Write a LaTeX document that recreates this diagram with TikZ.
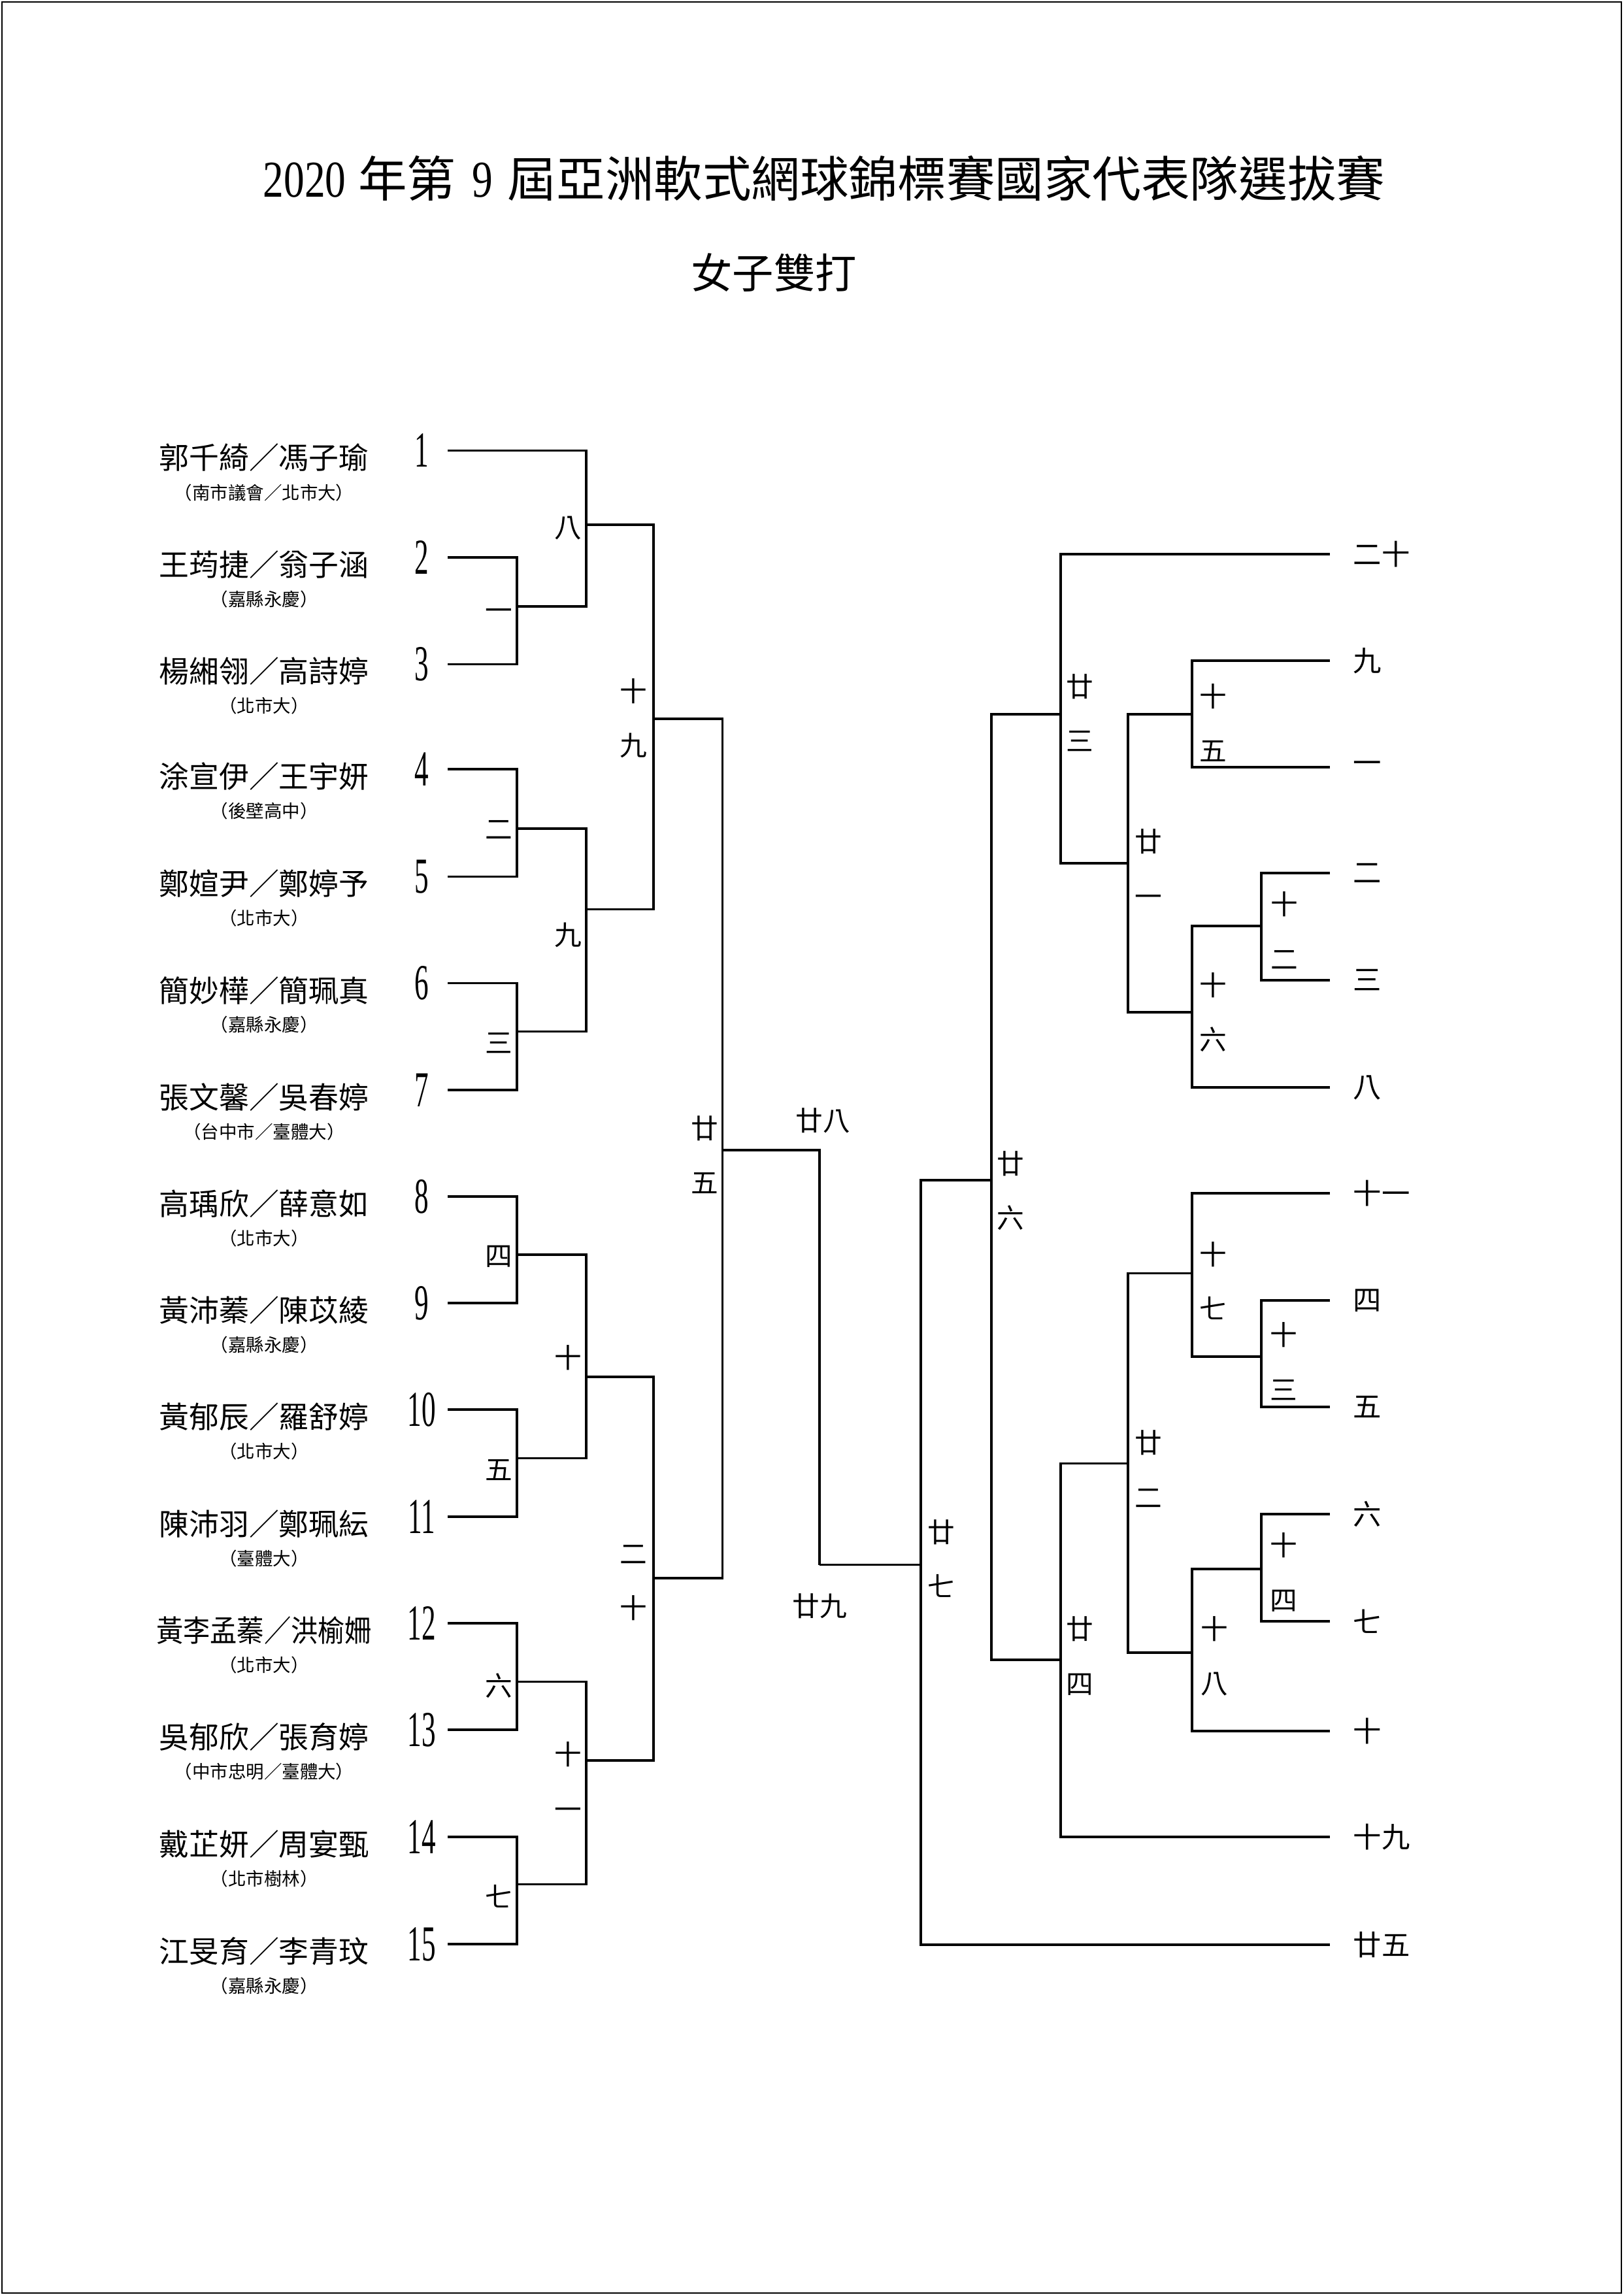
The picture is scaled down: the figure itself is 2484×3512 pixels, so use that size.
\documentclass[tikz,border=0pt]{standalone}
\usepackage{fontspec}
\usepackage{graphicx}
\setmainfont{Noto Sans CJK TC}
\newfontfamily\digf{Liberation Serif}
\newcommand\dnum[1]{\scalebox{0.56}[1]{\digf\fontsize{18.5}{20}\selectfont #1}}
\newcommand\tdig[1]{\scalebox{0.8}[1]{\digf\fontsize{19}{20}\selectfont #1}}
\tikzset{
  ln/.style={line width=0.8pt},
  nm/.style={inner sep=0pt, font=\fontsize{11}{13}\selectfont},
  cl/.style={inner sep=0pt, font=\fontsize{6.6}{8}\selectfont},
  num/.style={inner sep=0pt},
  lab/.style={inner sep=0pt, font=\fontsize{10}{12}\selectfont},
  stk/.style={inner sep=0pt, align=center, font=\fontsize{10}{20}\selectfont},
  rlab/.style={inner sep=0pt, anchor=west, font=\fontsize{10.4}{12}\selectfont},
}
\begin{document}
\begin{tikzpicture}[x=0.24pt,y=-0.24pt]
\useasboundingbox (0,0) rectangle (2484,3512);
\draw[line width=0.6pt] (3,3) rectangle (2481,3509);

% titles
\node[inner sep=0pt, font=\fontsize{17.9}{20}\selectfont] (title) at (1261,273)
  {\tdig{2020}\hspace{4.5pt}年第\hspace{6pt}\tdig{9}\hspace{5.5pt}屆亞洲軟式網球錦標賽國家代表隊選拔賽};
\node[inner sep=0pt, font=\fontsize{15.2}{18}\selectfont] (sub) at (1184,417) {女子雙打};

% left entries: line start points and numbers
\foreach \k/\y in {1/689.5, 2/853, 3/1016.5, 4/1177, 5/1341.5, 6/1504.6, 7/1668, 8/1831,
                   9/1994, 10/2157, 11/2321, 12/2484, 13/2647, 14/2811, 15/2975} {
  \coordinate (L\k) at (685,\y);
  \node[num] (n\k) at (645,\y) {\dnum{\k}};
}

% names and clubs
\node[nm] (p1) at (404,700.5) {郭千綺／馮子瑜};
\node[cl] (c1) at (404,754) {（南市議會／北市大）};
\node[nm] (p2) at (404,864) {王荺捷／翁子涵};
\node[cl] (c2) at (404,917) {（嘉縣永慶）};
\node[nm] (p3) at (404,1027.5) {楊緗翎／高詩婷};
\node[cl] (c3) at (404,1080) {（北市大）};
\node[nm] (p4) at (404,1188) {涂宣伊／王宇妍};
\node[cl] (c4) at (404,1241) {（後壁高中）};
\node[nm] (p5) at (404,1352.5) {鄭媗尹／鄭婷予};
\node[cl] (c5) at (404,1405) {（北市大）};
\node[nm] (p6) at (404,1515.6) {簡妙樺／簡珮真};
\node[cl] (c6) at (404,1568) {（嘉縣永慶）};
\node[nm] (p7) at (404,1679) {張文馨／吳春婷};
\node[cl] (c7) at (404,1732) {（台中市／臺體大）};
\node[nm] (p8) at (404,1842) {高瑀欣／薛意如};
\node[cl] (c8) at (404,1895) {（北市大）};
\node[nm] (p9) at (404,2005) {黃沛蓁／陳苡綾};
\node[cl] (c9) at (404,2058) {（嘉縣永慶）};
\node[nm] (p10) at (404,2168) {黃郁辰／羅舒婷};
\node[cl] (c10) at (404,2221) {（北市大）};
\node[nm] (p11) at (404,2332) {陳沛羽／鄭珮紜};
\node[cl] (c11) at (404,2385) {（臺體大）};
\node[nm] (p12) at (404,2495) {\scalebox{0.9}[1]{黃李孟蓁／洪榆姍}};
\node[cl] (c12) at (404,2548) {（北市大）};
\node[nm] (p13) at (404,2658) {吳郁欣／張育婷};
\node[cl] (c13) at (404,2711) {（中市忠明／臺體大）};
\node[nm] (p14) at (404,2822) {戴芷妍／周宴甄};
\node[cl] (c14) at (404,2875) {（北市樹林）};
\node[nm] (p15) at (404,2986) {江旻育／李青玟};
\node[cl] (c15) at (404,3039) {（嘉縣永慶）};

% match points, left half
\coordinate (m1) at (791,928);
\coordinate (m2) at (791,1268);
\coordinate (m3) at (791,1578.5);
\coordinate (m4) at (791,1920);
\coordinate (m5) at (791,2231.5);
\coordinate (m6) at (791,2573.6);
\coordinate (m7) at (791,2883.6);
\coordinate (m8) at (897,803);
\coordinate (m9) at (897,1391.5);
\coordinate (m10) at (897,2107);
\coordinate (m11) at (897,2694);
\coordinate (m19) at (1000,1100);
\coordinate (m20) at (1000,2415);
\coordinate (m25) at (1105.6,1760);
\coordinate (k29) at (1254,2394.5);
\coordinate (m27) at (1409,2394.5);
\coordinate (m26) at (1517,1806);
% match points, right half
\coordinate (m23) at (1623,1093);
\coordinate (m24) at (1623,2540);
\coordinate (m21) at (1726,1321);
\coordinate (m22) at (1726,2239.6);
\coordinate (m15) at (1824,1093);
\coordinate (m16) at (1824,1549);
\coordinate (m17) at (1824,1948.5);
\coordinate (m18) at (1824,2529);
\coordinate (m12) at (1930,1417);
\coordinate (m13) at (1930,2076);
\coordinate (m14) at (1930,2401);
% right line ends
\coordinate (r20) at (2035,848);
\coordinate (r9) at (2035,1011);
\coordinate (r1) at (2035,1174);
\coordinate (r2) at (2035,1336);
\coordinate (r3) at (2035,1500);
\coordinate (r8) at (2035,1664);
\coordinate (r11) at (2035,1826);
\coordinate (r4) at (2035,1990);
\coordinate (r5) at (2035,2153);
\coordinate (r6) at (2035,2317);
\coordinate (r7) at (2035,2481);
\coordinate (r10) at (2035,2649);
\coordinate (r19) at (2035,2811);
\coordinate (r25) at (2035,2976);

% left bracket lines
\draw[ln] (L1) -| (m8);
\draw[ln] (L2) -| (m1);  \draw[ln] (L3) -| (m1);
\draw[ln] (L4) -| (m2);  \draw[ln] (L5) -| (m2);
\draw[ln] (L6) -| (m3);  \draw[ln] (L7) -| (m3);
\draw[ln] (L8) -| (m4);  \draw[ln] (L9) -| (m4);
\draw[ln] (L10) -| (m5); \draw[ln] (L11) -| (m5);
\draw[ln] (L12) -| (m6); \draw[ln] (L13) -| (m6);
\draw[ln] (L14) -| (m7); \draw[ln] (L15) -| (m7);
\draw[ln] (m1) -| (m8);
\draw[ln] (m2) -| (m9);  \draw[ln] (m3) -| (m9);
\draw[ln] (m4) -| (m10); \draw[ln] (m5) -| (m10);
\draw[ln] (m6) -| (m11); \draw[ln] (m7) -| (m11);
\draw[ln] (m8) -| (m19); \draw[ln] (m9) -| (m19);
\draw[ln] (m10) -| (m20); \draw[ln] (m11) -| (m20);
\draw[ln] (m19) -| (m25); \draw[ln] (m20) -| (m25);
% centre
\draw[ln] (m25) -| (k29);
\draw[ln] (k29) -- (m27);
\draw[ln] (m26) -| (m27);
\draw[ln] (r25) -| (m27);
% right bracket lines
\draw[ln] (m23) -| (m26); \draw[ln] (m24) -| (m26);
\draw[ln] (r20) -| (m23); \draw[ln] (m21) -| (m23);
\draw[ln] (m15) -| (m21); \draw[ln] (m16) -| (m21);
\draw[ln] (r9) -| (m15);  \draw[ln] (r1) -| (m15);
\draw[ln] (m12) -| (m16); \draw[ln] (r8) -| (m16);
\draw[ln] (r2) -| (m12);  \draw[ln] (r3) -| (m12);
\draw[ln] (m22) -| (m24); \draw[ln] (r19) -| (m24);
\draw[ln] (m17) -| (m22); \draw[ln] (m18) -| (m22);
\draw[ln] (r11) -| (m17); \draw[ln] (m13) -| (m17);
\draw[ln] (r4) -| (m13);  \draw[ln] (r5) -| (m13);
\draw[ln] (m14) -| (m18); \draw[ln] (r10) -| (m18);
\draw[ln] (r6) -| (m14);  \draw[ln] (r7) -| (m14);

% match labels, left
\node[lab] (t1) at (763,941) {一};
\node[lab] (t2) at (763,1270) {二};
\node[lab] (t3) at (763,1596) {三};
\node[lab] (t4) at (763,1923) {四};
\node[lab] (t5) at (763,2250) {五};
\node[lab] (t6) at (763,2580) {六};
\node[lab] (t7) at (763,2902) {七};
\node[lab] (t8) at (869,808) {八};
\node[lab] (t9) at (869,1431) {九};
\node[lab] (t10) at (869,2078) {十};
\node[stk] (t11) at (869,2725) {十\\一};
\node[stk] (t19) at (969,1099) {十\\九};
\node[stk] (t20) at (969,2422) {二\\十};
\node[stk] (t25) at (1078,1767) {廿\\五};
\node[lab] (t28) at (1259,1715) {廿八};
\node[lab] (t29) at (1254,2458) {廿九};
% match labels, right
\node[stk] (t27) at (1440,2385) {廿\\七};
\node[stk] (t26) at (1546,1822) {廿\\六};
\node[stk] (t23) at (1652,1091) {廿\\三};
\node[stk] (t24) at (1652,2534) {廿\\四};
\node[stk] (t21) at (1757,1328) {廿\\一};
\node[stk] (t22) at (1757,2248) {廿\\二};
\node[stk] (t15) at (1856,1106) {十\\五};
\node[stk] (t16) at (1856,1549) {十\\六};
\node[stk] (t17) at (1856,1960) {十\\七};
\node[stk] (t18) at (1858,2534) {十\\八};
\node[stk] (t12) at (1965,1424) {十\\二};
\node[stk] (t13) at (1964,2083) {十\\三};
\node[stk] (t14) at (1964,2406) {十\\四};
% right line-end labels
\node[rlab] (q20) at (2070,848) {二十};
\node[rlab] (q9) at (2070,1011) {九};
\node[rlab] (q1) at (2070,1174) {一};
\node[rlab] (q2) at (2070,1336) {二};
\node[rlab] (q3) at (2070,1500) {三};
\node[rlab] (q8) at (2070,1664) {八};
\node[rlab] (q11) at (2070,1826) {十一};
\node[rlab] (q4) at (2070,1990) {四};
\node[rlab] (q5) at (2070,2153) {五};
\node[rlab] (q6) at (2070,2317) {六};
\node[rlab] (q7) at (2070,2481) {七};
\node[rlab] (q10) at (2070,2649) {十};
\node[rlab] (q19) at (2070,2811) {十九};
\node[rlab] (q25) at (2070,2976) {廿五};
\end{tikzpicture}
\end{document}
